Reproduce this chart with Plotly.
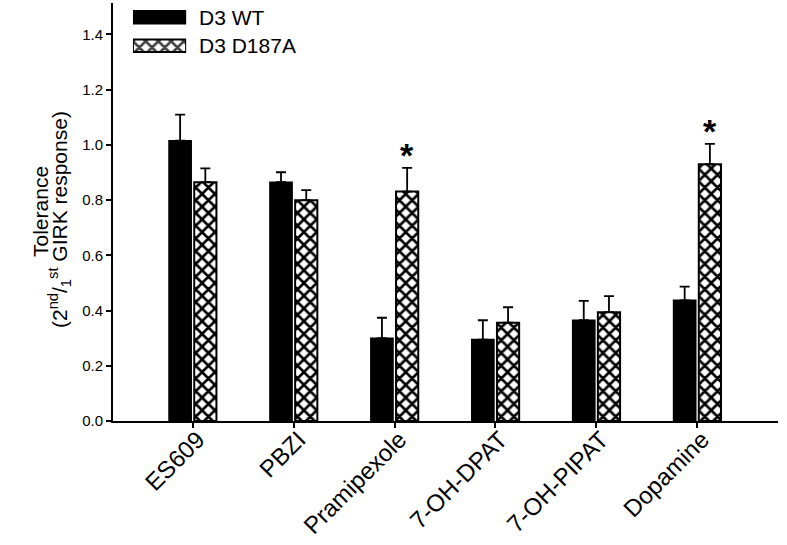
import plotly.graph_objects as go

# Datos
drugs = ["ES609", "PBZI", "Pramipexole", "7-OH-DPAT", "7-OH-PIPAT", "Dopamine"]
wt_mean = [1.015, 0.865, 0.300, 0.295, 0.365, 0.437]
wt_err = [0.095, 0.036, 0.074, 0.070, 0.070, 0.050]
mut_mean = [0.865, 0.800, 0.831, 0.356, 0.394, 0.930]
mut_err = [0.050, 0.036, 0.086, 0.056, 0.058, 0.074]
significant = [False, False, True, False, False, True]
series_names = ["D3 WT", "D3 D187A"]
y_ticks = [0.0, 0.2, 0.4, 0.6, 0.8, 1.0, 1.2, 1.4]

FONT = "Liberation Sans, Arial, sans-serif"
hatch = dict(shape="x", fgcolor="black", bgcolor="white", size=9, solidity=0.5, fgopacity=1)

fig = go.Figure()

fig.add_trace(go.Bar(
    x=drugs, y=wt_mean, name=series_names[0],
    marker=dict(color="black", line=dict(color="black", width=1.5)),
    error_y=dict(type="data", symmetric=False, array=wt_err,
                 arrayminus=[0] * len(wt_err), color="black",
                 thickness=1.8, width=5),
    showlegend=False,
))
fig.add_trace(go.Bar(
    x=drugs, y=mut_mean, name=series_names[1],
    marker=dict(color="white", pattern=hatch,
                line=dict(color="black", width=2)),
    error_y=dict(type="data", symmetric=False, array=mut_err,
                 arrayminus=[0] * len(mut_err), color="black",
                 thickness=1.8, width=5),
    showlegend=False,
))

# leyenda hecha a mano (muestras anchas como en el original)
fig.add_trace(go.Bar(
    y=series_names, x=[1, 1], orientation="h",
    xaxis="x2", yaxis="y2",
    marker=dict(color=["black", "white"],
                pattern=dict(shape=["", "x"], fgcolor="black", size=9,
                             solidity=0.5, fgopacity=1),
                line=dict(color="black", width=2)),
    showlegend=False, hoverinfo="skip",
))
for name in series_names:
    fig.add_annotation(x=1, y=name, xref="x2", yref="y2", text=name,
                       showarrow=False, xanchor="left", xshift=11,
                       font=dict(family=FONT, size=21, color="black"))

# asteriscos de significancia
for i, sig in enumerate(significant):
    if sig:
        fig.add_annotation(x=i + 0.125, y=mut_mean[i] + mut_err[i],
                           text="<b>*</b>", showarrow=False,
                           yanchor="bottom", yshift=-8,
                           font=dict(family=FONT, size=34, color="black"))

# titulo del eje Y en dos lineas, mas juntas que el interlineado por defecto
fig.add_annotation(x=0, y=0.5, xref="paper", yref="paper", text="Tolerance",
                   textangle=-90, showarrow=False, xanchor="center",
                   xshift=-73, font=dict(family=FONT, size=21, color="black"))
fig.add_annotation(x=0, y=0.5, xref="paper", yref="paper",
                   text="(2<sup>nd</sup>/<sub>1</sub><sup>st</sup> GIRK response)",
                   textangle=-90, showarrow=False, xanchor="center",
                   xshift=-54, yshift=-8, font=dict(family=FONT, size=21, color="black"))

fig.update_layout(
    width=787, height=545, autosize=False,
    margin=dict(l=113, r=9, t=3, b=124),
    paper_bgcolor="white", plot_bgcolor="white",
    barmode="group", bargap=0.5, bargroupgap=0.12,
    font=dict(family=FONT, color="black"),
    xaxis=dict(
        range=[-0.79, 5.8], showline=True, linecolor="black", linewidth=2,
        ticks="outside", ticklen=5, tickcolor="black", tickwidth=1.5,
        tickangle=-45, tickfont=dict(size=24), showgrid=False, zeroline=False,
        automargin=False, ticklabelstandoff=-12, ticklabelshift=5,
    ),
    yaxis=dict(
        range=[0, 1.514], tickvals=y_ticks, tickformat=".1f",
        showline=True, linecolor="black", linewidth=2,
        ticks="outside", ticklen=5, tickcolor="black", tickwidth=1.5,
        tickfont=dict(size=15), showgrid=False, zeroline=False,
        automargin=False,
    ),
    xaxis2=dict(domain=[0.030, 0.110], range=[0, 1], visible=False,
                anchor="y2", fixedrange=True),
    yaxis2=dict(domain=[0.864, 1.0], type="category", autorange="reversed",
                visible=False, anchor="x2", fixedrange=True),
)

# quitar el margen por defecto del body para que la figura empiece en (0, 0)
fig.write_html("out.html", config={"displayModeBar": False},
               post_script="document.body.style.margin='0';")
